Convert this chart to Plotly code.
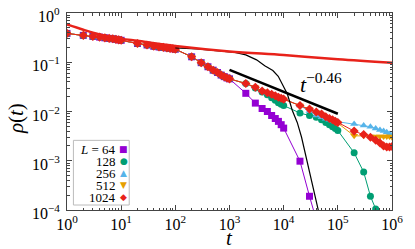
import plotly.graph_objects as go

# ---------------- data ----------------
# shared early-time part (all system sizes coincide)
t_early = [1, 2, 3, 4, 5, 6, 7, 8, 9,
           10, 20, 30, 40, 50, 60, 70, 80, 90,
           100, 200, 300, 400, 500, 600, 700, 800, 900, 1000]
rho_early = [0.385, 0.351, 0.335, 0.324, 0.313, 0.305, 0.299, 0.292, 0.285,
             0.279, 0.240, 0.224, 0.211, 0.204, 0.200, 0.195, 0.191, 0.188,
             0.184, 0.129, 0.098, 0.081, 0.069, 0.062, 0.055, 0.051, 0.048, 0.046]

t_L64 = [2000, 3000, 4000, 5000, 6000, 7000, 8000, 9000, 10000, 20000, 30000, 40000]
rho_L64 = [0.0234, 0.0148, 0.0115, 0.0100, 0.0083, 0.0072, 0.0063, 0.0054, 0.0046,
           0.00098, 0.00019, 0.000063]

t_L128 = [2000, 3000, 4000, 5000, 6000, 7000, 8000, 9000,
          10000, 20000, 30000, 40000, 50000, 60000, 70000, 80000, 90000,
          100000, 200000, 300000, 400000, 500000]
rho_L128 = [0.037, 0.030, 0.025, 0.0219, 0.0191, 0.0170, 0.0151, 0.0141,
            0.0132, 0.0093, 0.0083, 0.0076, 0.0068, 0.0060, 0.0054, 0.0049, 0.0045,
            0.0041, 0.00145, 0.00059, 0.00019, 0.000105]

t_L256 = [2000, 3000, 4000, 5000, 6000, 7000, 8000, 9000,
          10000, 20000, 30000, 40000, 50000, 60000, 70000, 80000, 90000,
          100000, 200000, 300000, 400000, 500000, 600000, 700000, 800000, 900000, 1000000]
rho_L256 = [0.037, 0.031, 0.026, 0.024, 0.0224, 0.0209, 0.0195, 0.0186,
            0.0178, 0.0132, 0.0102, 0.0083, 0.0076, 0.0071, 0.0068, 0.0065, 0.0063,
            0.0062, 0.0056, 0.0052, 0.0049, 0.0045, 0.0042, 0.0040, 0.0038, 0.0035, 0.0033]

t_L512 = t_L256
rho_L512 = [0.037, 0.031, 0.026, 0.024, 0.0224, 0.0209, 0.0195, 0.0186,
            0.0178, 0.0132, 0.0112, 0.0097, 0.0087, 0.0077, 0.0071, 0.0066, 0.0061,
            0.0058, 0.0032, 0.0032, 0.0031, 0.0031, 0.0031, 0.0031, 0.0031, 0.0031, 0.0030]

t_L1024 = t_L256
rho_L1024 = [0.037, 0.031, 0.026, 0.024, 0.0224, 0.0209, 0.0195, 0.0186,
             0.0178, 0.0132, 0.0112, 0.0098, 0.0089, 0.0078, 0.0072, 0.0068, 0.0063,
             0.0060, 0.0040, 0.0034, 0.0030, 0.0026, 0.0023, 0.0020, 0.0019, 0.0019, 0.00195]

# thin black curve
t_black = [100, 250, 630, 1260, 2000, 3160, 4470, 6310, 7940, 9550, 11750, 14450,
           17800, 21400, 25100, 29500, 33900, 40700, 47900]
rho_black = [0.195, 0.186, 0.170, 0.158, 0.141, 0.112, 0.085, 0.068, 0.052, 0.036,
             0.0224, 0.0105, 0.0060, 0.0030, 0.0014, 0.00065, 0.000295, 0.00012, 0.000063]

# thick red curve
t_red = [1, 2, 4, 10, 20, 100, 1000, 10000, 100000, 1000000]
rho_red = [0.583, 0.457, 0.367, 0.302, 0.272, 0.214, 0.166, 0.140, 0.115, 0.098]

# power-law guide t^-0.46
t_guide = [1000, 100000]
rho_guide = [0.070, 0.0090]

labels = ["<i>L</i> = 64", "128", "256", "512", "1024"]
colors = ["#9400D3", "#009E73", "#56B4E9", "#E69F00", "#E8221A"]
symbols = ["square", "circle", "triangle-up", "triangle-down", "diamond"]
legend_glyphs = ["■", "●", "▲", "▼", "◆"]

x_ticks = [1, 10, 100, 1000, 10000, 100000, 1000000]
x_ticktext = ["10<sup>0</sup>", "10<sup>1</sup>", "10<sup>2</sup>", "10<sup>3</sup>",
              "10<sup>4</sup>", "10<sup>5</sup>", "10<sup>6</sup>"]
y_ticks = [1e-4, 1e-3, 1e-2, 1e-1, 1]
y_tick_exp = [-4, -3, -2, -1, 0]
y_ticktext = ["10<sup>−4</sup>", "10<sup>−3</sup>", "10<sup>−2</sup>",
              "10<sup>−1</sup>", "10<sup>0</sup>"]

# ---------------- figure ----------------
FONT = "Liberation Serif"
fig = go.Figure()

tails = [(t_L64, rho_L64), (t_L128, rho_L128), (t_L256, rho_L256),
         (t_L512, rho_L512), (t_L1024, rho_L1024)]
for (tt, rr), lab, col, sym in zip(tails, labels, colors, symbols):
    fig.add_trace(go.Scatter(
        x=t_early + tt, y=rho_early + rr, mode="lines+markers", name=lab,
        line=dict(color=col, width=1),
        marker=dict(symbol=sym, size=7, color=col, line=dict(width=0)),
        showlegend=False))

fig.add_trace(go.Scatter(x=t_black, y=rho_black, mode="lines",
                         line=dict(color="black", width=1.2),
                         showlegend=False))
fig.add_trace(go.Scatter(x=t_red, y=rho_red, mode="lines",
                         line=dict(color="#E8221A", width=2.5, shape="spline"),
                         showlegend=False))
fig.add_trace(go.Scatter(x=t_guide, y=rho_guide, mode="lines",
                         line=dict(color="black", width=2.5),
                         showlegend=False))

L, R, T, B = 67, 19, 12, 39
W, H = 415, 249
pw, ph = W - L - R, H - T - B


def px(x):
    return (x - L) / pw


def py(y):
    return (H - B - y) / ph


axis_common = dict(
    type="log", showline=True, linecolor="#444", linewidth=1, mirror="ticks",
    ticks="inside", ticklen=5, tickcolor="#444", tickwidth=1,
    showgrid=False, zeroline=False,
    tickfont=dict(family=FONT, size=16, color="black"),
)

x_minor = [m * 10 ** k for k in range(6) for m in range(2, 10)]
y_minor = [m * 10.0 ** k for k in range(-4, 0) for m in range(2, 10)]

fig.update_xaxes(**axis_common, range=[0, 6], tickmode="array", tickvals=x_ticks,
                 ticktext=x_ticktext,
                 minor=dict(ticks="inside", ticklen=2.5, tickcolor="#444",
                            tickmode="array", tickvals=x_minor, showgrid=False))
fig.update_yaxes(**axis_common, range=[-4, 0], tickmode="array", tickvals=y_ticks,
                 ticktext=y_ticktext, showticklabels=False,
                 minor=dict(ticks="inside", ticklen=2.5, tickcolor="#444",
                            tickmode="array", tickvals=y_minor, showgrid=False))

annotations = [
    dict(text="<i>t</i>", x=px(231), y=py(238), xref="paper", yref="paper",
         xanchor="center", yanchor="middle",
         showarrow=False, font=dict(family=FONT, size=21, color="black")),
    dict(text="<i>ρ</i>(<i>t</i>)", x=px(16), y=py(118), xref="paper", yref="paper",
         xanchor="center", yanchor="middle",
         showarrow=False, textangle=-90, font=dict(family=FONT, size=21, color="black")),
    dict(text="<i>t</i><sup>−0.46</sup>", x=px(301), y=py(82), xref="paper", yref="paper",
         xanchor="left", yanchor="middle",
         showarrow=False, font=dict(family=FONT, size=22, color="black")),
]
# y tick labels placed next to the axis
for e, txt in zip(y_tick_exp, y_ticktext):
    annotations.append(dict(text=txt, x=px(62), y=e, xref="paper", yref="y",
                            xanchor="right", yanchor="middle", yshift=-2,
                            showarrow=False,
                            font=dict(family=FONT, size=16, color="black")))

row_y = [149, 161, 173, 185, 197]
for lab, col, g, ry in zip(labels, colors, legend_glyphs, row_y):
    annotations.append(dict(text=lab, x=px(119), y=py(ry), xref="paper", yref="paper",
                            xanchor="right", yanchor="middle", showarrow=False,
                            font=dict(family=FONT, size=13, color="black")))
    annotations.append(dict(text=g, x=px(124.5), y=py(ry), xref="paper", yref="paper",
                            xanchor="center", yanchor="middle", showarrow=False,
                            font=dict(family="DejaVu Sans", size=9, color=col)))

fig.update_layout(
    width=W, height=H, autosize=False,
    margin=dict(l=L, r=R, t=T, b=B, pad=0),
    paper_bgcolor="white", plot_bgcolor="white",
    showlegend=False,
    annotations=annotations,
    shapes=[dict(type="rect", xref="paper", yref="paper",
                 x0=px(73.5), x1=px(130), y0=py(205), y1=py(140),
                 line=dict(color="#bbbbbb", width=1), fillcolor="rgba(255,255,255,0.85)",
                 layer="above")],
)

fig.write_html("out.html", config={"displayModeBar": False},
               post_script="document.body.style.margin='0';")
